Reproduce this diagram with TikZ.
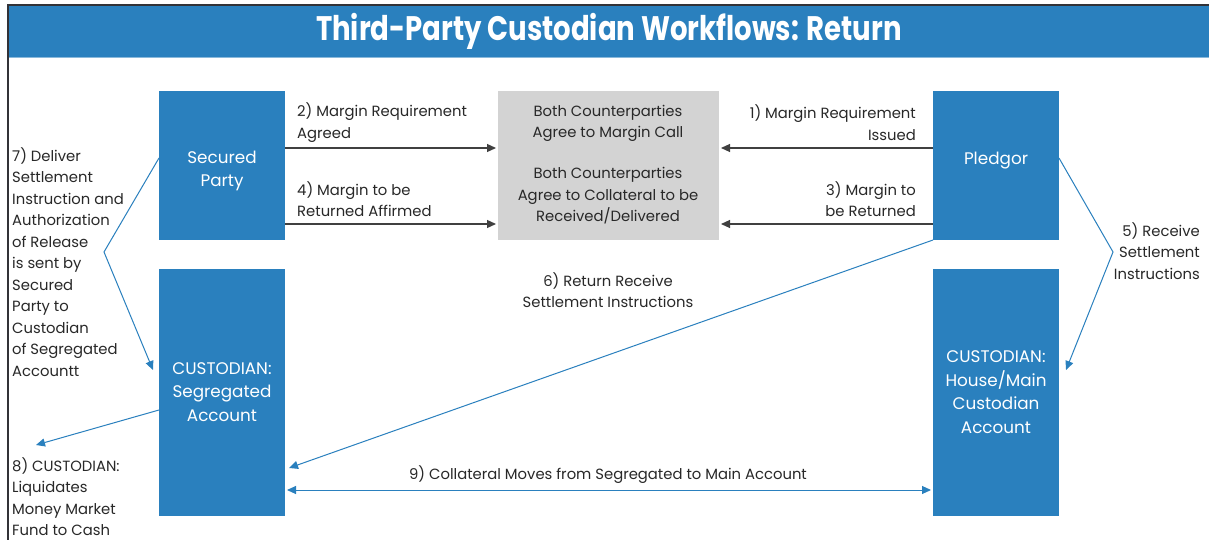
\documentclass[tikz,border=0pt]{standalone}
\usepackage{fontspec}
\setmainfont{Poppins}
\usetikzlibrary{arrows.meta}
\definecolor{boxblue}{RGB}{42,128,190}
\definecolor{boxgray}{RGB}{211,211,211}
\definecolor{txt}{RGB}{40,40,40}
\definecolor{framec}{RGB}{50,50,55}
\tikzset{
  bluebox/.style={fill=boxblue, draw=none, inner sep=0},
  graybox/.style={fill=boxgray, draw=none, inner sep=0},
  boxtext/.style={text=white, align=center, font=\fontsize{16.8}{23.5}\selectfont, inner sep=0},
  lbl/.style={text=txt, font=\fontsize{14.8}{21.5}\selectfont, inner sep=0},
  blackarrow/.style={draw=black!75, line width=1.2pt, -{Triangle[length=9pt,width=8pt]}},
  bluearrow/.style={draw=boxblue, line width=1pt, -{Triangle[length=9pt,width=8pt]}},
  bluedouble/.style={draw=boxblue, line width=1pt, {Triangle[length=9pt,width=8pt]}-{Triangle[length=9pt,width=8pt]}},
}
\begin{document}
\begin{tikzpicture}[x=1pt,y=-1pt]
\useasboundingbox (0,0) rectangle (1209,540);
\fill[white] (0,0) rectangle (1209,540);
% title bar and frame
\fill[boxblue] (8,5) rectangle (1209,57);
\draw[boxblue!55, line width=1pt] (8,57.5) -- (1209,57.5);
\draw[framec, line width=1.2pt] (1209,5) -- (8,5) -- (8,540);
\node[text=white, inner sep=0] (title) at (609,31) {\scalebox{0.81}[1]{\fontsize{34}{36}\selectfont\bfseries Third-Party Custodian Workflows: Return}};
% boxes
\path[bluebox] (159,91) rectangle (285,240);
\node[inner sep=0, minimum width=126pt, minimum height=149pt] (sp) at (222,165.5) {};
\path[graybox] (498,91) rectangle (719,240);
\node[inner sep=0, minimum width=221pt, minimum height=149pt] (gb) at (608.5,165.5) {};
\path[bluebox] (933,91) rectangle (1059,240);
\node[inner sep=0, minimum width=126pt, minimum height=149pt] (pl) at (996,165.5) {};
\path[bluebox] (159,269) rectangle (285,516);
\node[inner sep=0, minimum width=126pt, minimum height=247pt] (cs) at (222,392.5) {};
\path[bluebox] (933,269) rectangle (1059,516);
\node[inner sep=0, minimum width=126pt, minimum height=247pt] (ch) at (996,392.5) {};
% box texts
\node[boxtext] (sptext) at (222,171) {Secured\\Party};
\node[boxtext] (pltext) at (996,161) {Pledgor};
\node[boxtext] (cstext) at (222,392) {CUSTODIAN:\\Segregated\\Account};
\node[boxtext] (chtext) at (996,392) {CUSTODIAN:\\House/Main\\Custodian\\Account};
\node[lbl, align=center] (g1) at (608,123.5) {Both Counterparties\\Agree to Margin Call};
\node[lbl, align=center] (g2) at (608,196) {Both Counterparties\\Agree to Collateral to be\\Received/Delivered};
% horizontal arrows
\coordinate (a2s) at (285,148); \coordinate (a2e) at (496,148);
\coordinate (a4s) at (285,224); \coordinate (a4e) at (496,224);
\coordinate (a1s) at (933,148); \coordinate (a1e) at (721,148);
\coordinate (a3s) at (933,224); \coordinate (a3e) at (721,224);
\draw[blackarrow] (a2s) -- (a2e);
\draw[blackarrow] (a4s) -- (a4e);
\draw[blackarrow] (a1s) -- (a1e);
\draw[blackarrow] (a3s) -- (a3e);
\node[lbl, align=left, anchor=west] (l2) at (297,122.5) {2) Margin Requirement\\Agreed};
\node[lbl, align=left, anchor=west] (l4) at (297,199) {4) Margin to be\\Returned Affirmed};
\node[lbl, align=right, anchor=east] (l1) at (916,122.5) {1) Margin Requirement\\Issued};
\node[lbl, align=right, anchor=east] (l3) at (916,199) {3) Margin to\\be Returned};
% 6)
\coordinate (a6s) at (933,240); \coordinate (a6e) at (289,468);
\draw[bluearrow] (a6s) -- (a6e);
\node[lbl, align=center] (l6) at (608,290) {6) Return Receive\\Settlement Instructions};
% 9)
\coordinate (a9s) at (287,490); \coordinate (a9e) at (931,490);
\draw[bluedouble] (a9s) -- (a9e);
\node[lbl] (l9) at (608,475) {9) Collateral Moves from Segregated to Main Account};
% 7)
\coordinate (a7s) at (159,158); \coordinate (a7m) at (104,252); \coordinate (a7e) at (153,370);
\draw[bluearrow] (a7s) -- (a7m) -- (a7e);
\node[lbl, align=left, anchor=north west] (l7) at (12,147) {7) Deliver\\Settlement\\Instruction and\\Authorization\\of Release\\is sent by\\Secured\\Party to\\Custodian\\of Segregated\\Accountt};
% 8)
\coordinate (a8s) at (159,410); \coordinate (a8e) at (36,445);
\draw[bluearrow] (a8s) -- (a8e);
\node[lbl, align=left, anchor=north west] (l8) at (12,457) {8) CUSTODIAN:\\Liquidates\\Money Market\\Fund to Cash};
% 5)
\coordinate (a5s) at (1059,158); \coordinate (a5m) at (1113,252); \coordinate (a5e) at (1066,370);
\draw[bluearrow] (a5s) -- (a5m) -- (a5e);
\node[lbl, align=right, anchor=east] (l5) at (1200,251) {5) Receive\\Settlement\\Instructions};
\end{tikzpicture}
\end{document}
